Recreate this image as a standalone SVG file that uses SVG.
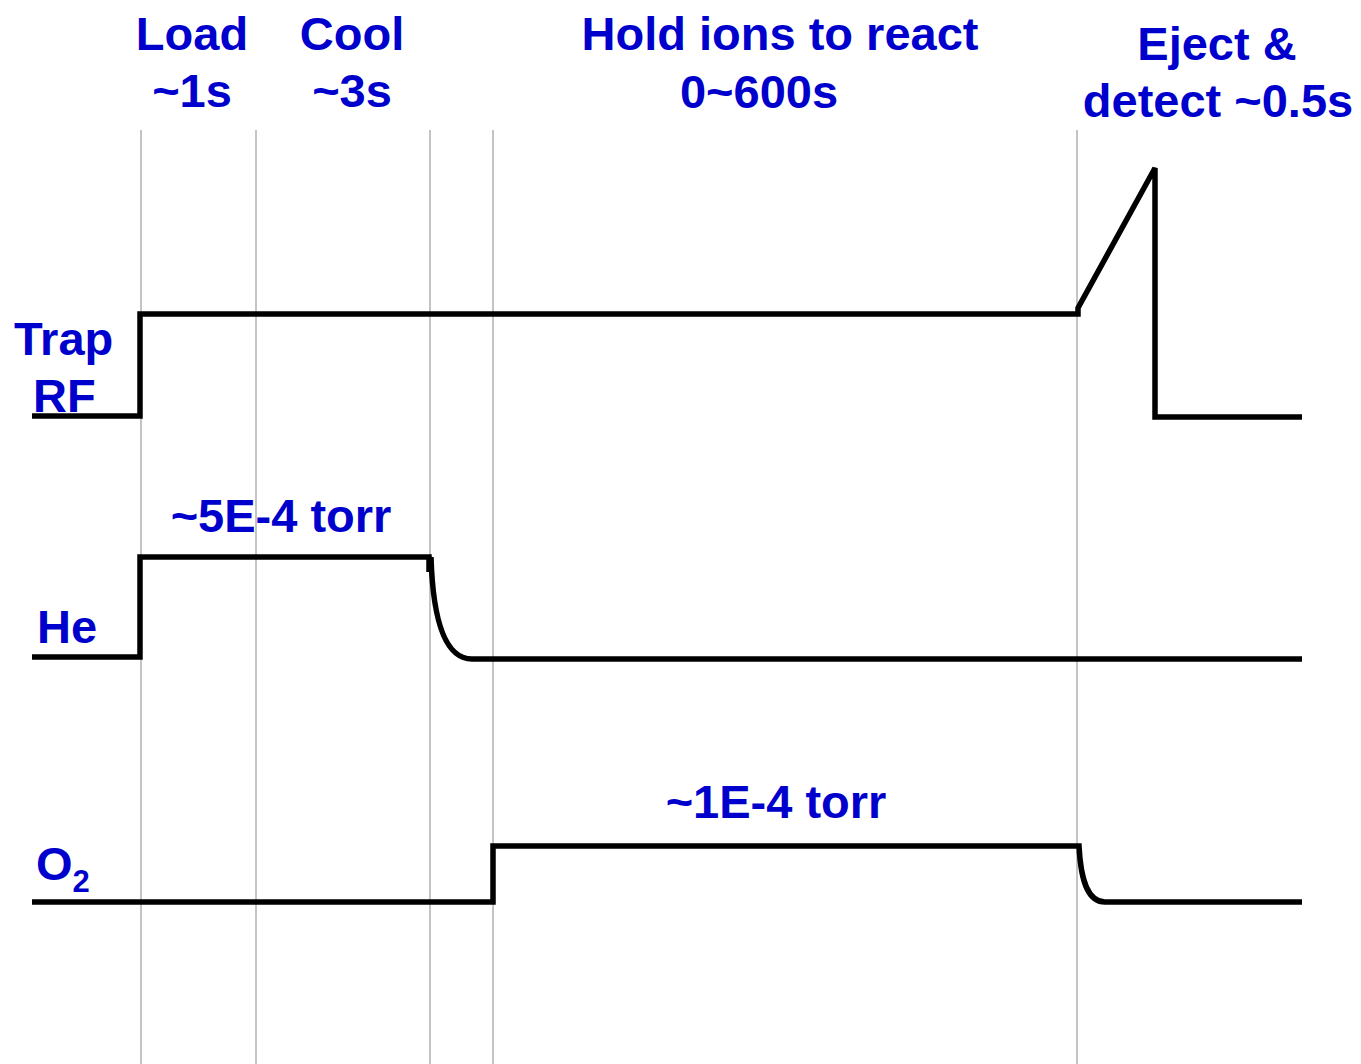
<svg xmlns="http://www.w3.org/2000/svg" width="1361" height="1064" viewBox="0 0 1361 1064">
  <style>
    .lbl { font-family: "Liberation Sans", Arial, sans-serif; font-weight: bold; font-size: 47px; fill: #0000CC; }
    .mid { text-anchor: middle; }
    .phase { stroke: #C4C4C4; stroke-width: 2; fill: none; }
    .sig { stroke: #000000; stroke-width: 5.5; fill: none; stroke-linejoin: miter; }
  </style>
  <rect width="1361" height="1064" fill="#FFFFFF"/>

  <!-- phase headings -->
  <g id="phase-load">
    <text class="lbl mid" x="192" y="50">Load</text>
    <text class="lbl mid" x="192" y="107">~1s</text>
  </g>
  <g id="phase-cool">
    <text class="lbl mid" x="352" y="50">Cool</text>
    <text class="lbl mid" x="352" y="107">~3s</text>
  </g>
  <g id="phase-hold">
    <text class="lbl mid" x="780" y="50">Hold ions to react</text>
    <text class="lbl mid" x="759" y="108">0~600s</text>
  </g>
  <g id="phase-eject">
    <text class="lbl mid" x="1217" y="60">Eject &amp;</text>
    <text class="lbl mid" x="1218" y="117">detect ~0.5s</text>
  </g>

  <!-- channel labels -->
  <g id="label-trap-rf">
    <text class="lbl" x="14" y="355">Trap</text>
    <text class="lbl" x="33" y="412">RF</text>
  </g>
  <g id="label-he">
    <text class="lbl" x="37" y="643">He</text>
    <text class="lbl mid" x="281" y="532">~5E-4 torr</text>
  </g>
  <g id="label-o2">
    <text class="lbl" x="36" y="880">O<tspan font-size="31" dy="12">2</tspan></text>
    <text class="lbl mid" x="776" y="818">~1E-4 torr</text>
  </g>

  <!-- phase boundaries -->
  <g id="phase-boundaries">
    <line class="phase" x1="141" y1="130" x2="141" y2="1064"/>
    <line class="phase" x1="256" y1="130" x2="256" y2="1064"/>
    <line class="phase" x1="430" y1="130" x2="430" y2="1064"/>
    <line class="phase" x1="493" y1="130" x2="493" y2="1064"/>
    <line class="phase" x1="1077" y1="130" x2="1077" y2="1064"/>
  </g>

  <!-- timing traces -->
  <g id="connectors">
    <path id="trace-trap-rf" class="sig" d="M32 416 H140 V314 H1078 V308 L1155 168 V417 H1302"/>
    <path id="trace-he" class="sig" d="M32 657 H140 V557 H429 V572 M431 557 C433 622 446 659 472 659 H1302"/>
    <path id="trace-o2" class="sig" d="M32 902 H493 V846 H1079 C1081 886 1090 902 1105 902 H1302"/>
  </g>
</svg>
